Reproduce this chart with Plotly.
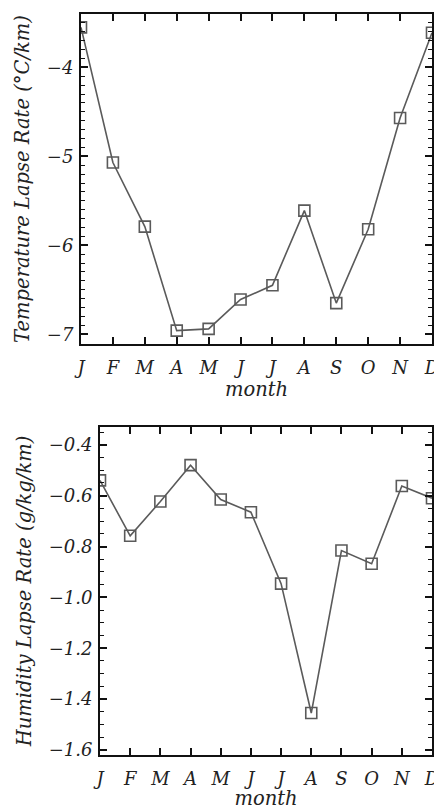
import plotly.graph_objects as go

months = ["J", "F", "M", "A", "M", "J", "J", "A", "S", "O", "N", "D"]
month_idx = list(range(12))
temp_lapse = [-3.55, -5.07, -5.79, -6.96, -6.94, -6.61, -6.45, -5.61, -6.65, -5.82, -4.57, -3.61]
hum_lapse = [-0.54, -0.758, -0.623, -0.48, -0.615, -0.665, -0.946, -1.455, -0.816, -0.868, -0.562, -0.61]

FONT = "DejaVu Serif"
tick_font = dict(family=FONT, size=18, color="#222", style="italic")
title_font = dict(family=FONT, size=19.5, color="#222", style="italic")

fig = go.Figure()

line_style = dict(color="#5a5a5a", width=1.6)
marker_style = dict(symbol="square-open", size=11, color="#5a5a5a", line=dict(width=1.6, color="#5a5a5a"))

fig.add_trace(go.Scatter(x=month_idx, y=temp_lapse, mode="lines+markers",
                         line=line_style, marker=marker_style, xaxis="x", yaxis="y", showlegend=False))
fig.add_trace(go.Scatter(x=month_idx, y=hum_lapse, mode="lines+markers",
                         line=line_style, marker=marker_style, xaxis="x2", yaxis="y2", showlegend=False))

common_x = dict(tickmode="array", tickvals=month_idx, ticktext=months, ticks="inside", ticklen=7,
                tickwidth=1.8, tickcolor="#111", showline=True, linecolor="#111", linewidth=2,
                mirror="ticks", showgrid=False, zeroline=False, tickfont=tick_font,
                ticklabelstandoff=6, ticklabeloverflow="allow",
                title=dict(text="month", font=title_font, standoff=2), automargin=False,
                range=[0, 11])
common_y = dict(ticks="inside", ticklen=7, tickwidth=1.8, tickcolor="#111", showline=True,
                linecolor="#111", linewidth=2, mirror="ticks", showgrid=False, zeroline=False,
                tickfont=tick_font, automargin=False, ticklabelstandoff=2)

fig.update_layout(
    width=434, height=810,
    margin=dict(l=0, r=0, t=0, b=0),
    paper_bgcolor="white", plot_bgcolor="white",
    xaxis=dict(common_x, domain=[81/434, 432/434], anchor="y"),
    yaxis=dict(common_y, domain=[1-344/810, 1-14/810], anchor="x", range=[-7.11, -3.40],
               dtick=1, tick0=0,
               minor=dict(dtick=0.1, ticks="inside", ticklen=4, tickwidth=1.2, tickcolor="#111"),
               title=dict(text="Temperature Lapse Rate (°C/km)", font=title_font, standoff=12)),
    xaxis2=dict(common_x, domain=[100/434, 432/434], anchor="y2"),
    yaxis2=dict(common_y, domain=[1-755/810, 1-427/810], anchor="x2", range=[-1.62, -0.33],
                dtick=0.2, tick0=0, tickformat=".1f",
                minor=dict(dtick=0.05, ticks="inside", ticklen=4, tickwidth=1.2, tickcolor="#111"),
                title=dict(text="Humidity Lapse Rate (g/kg/km)", font=title_font, standoff=12)),
)

fig.write_html("out.html", config={"displayModeBar": False},
               post_script="document.body.style.margin='0px';document.body.style.overflow='hidden';document.documentElement.style.overflow='hidden';")
